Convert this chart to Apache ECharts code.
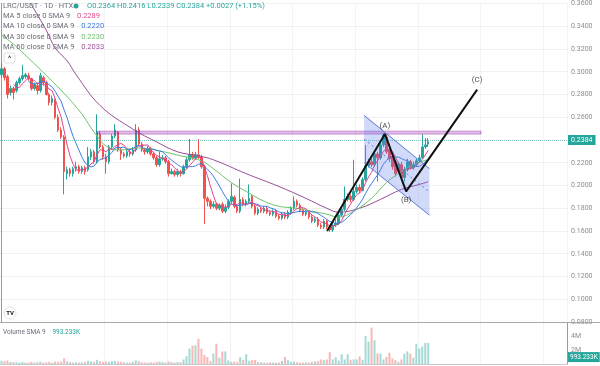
<!DOCTYPE html>
<html><head><meta charset="utf-8">
<script src="https://cdn.jsdelivr.net/npm/echarts@6/dist/echarts.min.js"></script>
<style>html,body{margin:0;padding:0;background:#fff}#c{width:600px;height:366px}</style>
</head><body><div id="c"></div>
<script>
// ---- data ----
const opens = [
.2974,.3026,.2957,.2817,.2852,.2835,.2904,.2939,.2957,.2965,
.2939,.2852,.2878,.2835,.2948,.2904,.2800,.2730,.2757,.2600,
.2487,.2426,.2104,.2139,.2104,.2148,.2165,.2122,.2157,.2139,
.2252,.2296,.2209,.2452,.2339,.2252,.2209,.2339,.2435,.2470,
.2313,.2278,.2261,.2296,.2278,.2313,.2487,.2365,.2313,.2296,
.2322,.2278,.2243,.2183,.2235,.2243,.2209,.2104,.2122,.2096,
.2122,.2104,.2165,.2226,.2270,.2243,.2270,.2252,.2165,.1887,
.1861,.1817,.1835,.1800,.1835,.1774,.1809,.1861,.1896,.1817,
.1774,.1878,.1835,.1861,.1904,.1817,.1757,.1791,.1774,.1800,
.1765,.1748,.1774,.1730,.1713,.1748,.1722,.1765,.1800,.1861,
.1826,.1783,.1748,.1765,.1722,.1687,.1704,.1652,.1635,.1687,
.1635,.1609,.1652,.1670,.1739,.1791,.1878,.1904,.1878,.1948,
.1983,.1957,.2052,.2174,.2209,.2183,.2278,.2243,.2357,.2426,
.2313,.2252,.2209,.2122,.2183,.2070,.2139,.2209,.2157,.2183,
.2217,.2243,.2339,.2364];
const closes = [
.3026,.2948,.2800,.2852,.2817,.2904,.2939,.2965,.2974,.2939,
.2852,.2887,.2835,.2965,.2904,.2800,.2730,.2765,.2600,.2487,
.2426,.2122,.2139,.2104,.2148,.2165,.2122,.2157,.2122,.2252,
.2296,.2209,.2470,.2339,.2252,.2209,.2339,.2435,.2487,.2313,
.2278,.2261,.2296,.2278,.2313,.2487,.2365,.2313,.2296,.2322,
.2278,.2243,.2183,.2235,.2243,.2209,.2104,.2122,.2096,.2122,
.2104,.2165,.2226,.2270,.2243,.2270,.2252,.2165,.1887,.1861,
.1817,.1835,.1800,.1826,.1774,.1809,.1861,.1904,.1817,.1774,
.1878,.1835,.1861,.1887,.1817,.1757,.1791,.1774,.1800,.1765,
.1748,.1774,.1730,.1713,.1748,.1722,.1765,.1800,.1861,.1826,
.1783,.1748,.1765,.1722,.1687,.1704,.1652,.1635,.1687,.1635,
.1609,.1652,.1670,.1739,.1791,.1878,.1904,.1878,.1948,.1983,
.1957,.2052,.2174,.2209,.2183,.2278,.2243,.2357,.2443,.2296,
.2235,.2165,.2104,.2191,.2070,.2139,.2209,.2157,.2183,.2217,
.2243,.2339,.2357,.2384];
const highs = [
.3078,.3043,.2974,.2878,.2870,.2922,.2957,.3061,.2991,.2991,
.2948,.2904,.2904,.2991,.2965,.2922,.2817,.2791,.2765,.2626,
.2513,.2443,.2165,.2157,.2165,.2209,.2183,.2174,.2174,.2339,
.2322,.2313,.2626,.2478,.2357,.2278,.2357,.2452,.2539,.2478,
.2330,.2296,.2313,.2322,.2339,.2539,.2513,.2383,.2330,.2348,
.2339,.2296,.2261,.2296,.2270,.2261,.2226,.2148,.2139,.2148,
.2139,.2183,.2252,.2409,.2296,.2296,.2409,.2270,.2183,.1904,
.1878,.1861,.1852,.1843,.1852,.1835,.1878,.2017,.1913,.1835,
.2061,.1896,.1878,.2009,.1922,.1835,.1809,.1809,.1817,.1817,
.1783,.1791,.1791,.1748,.1765,.1765,.1783,.1817,.1904,.1878,
.1843,.1800,.1783,.1783,.1739,.1722,.1722,.1670,.1704,.1704,
.1652,.1670,.1704,.1757,.1817,.1991,.1930,.1922,.2226,.2009,
.2009,.2070,.2357,.2235,.2235,.2304,.2296,.2383,.2461,.2443,
.2339,.2278,.2226,.2209,.2209,.2165,.2235,.2226,.2209,.2235,
.2270,.2452,.2417,.2416];
const lows = [
.2948,.2922,.2765,.2791,.2757,.2817,.2887,.2922,.2939,.2922,
.2835,.2835,.2800,.2817,.2878,.2791,.2704,.2704,.2583,.2470,
.2409,.1922,.2052,.2078,.2078,.2122,.2104,.2104,.2096,.2122,
.2226,.2191,.2191,.2322,.2226,.2104,.2191,.2322,.2417,.2296,
.2226,.2243,.2243,.2252,.2261,.2296,.2348,.2296,.2270,.2278,
.2261,.2226,.2165,.2165,.2217,.2191,.2078,.2096,.2078,.2078,
.2078,.2096,.2148,.2209,.2226,.2226,.2235,.2148,.1661,.1817,
.1791,.1800,.1783,.1783,.1757,.1757,.1791,.1843,.1800,.1757,
.1757,.1817,.1817,.1843,.1800,.1739,.1739,.1757,.1757,.1748,
.1730,.1730,.1713,.1696,.1696,.1704,.1704,.1748,.1783,.1809,
.1765,.1730,.1730,.1704,.1670,.1670,.1635,.1617,.1617,.1617,
.1591,.1591,.1635,.1652,.1722,.1774,.1861,.1852,.1861,.1930,
.1930,.1948,.2035,.2157,.2165,.2165,.2035,.2226,.2339,.2278,
.2209,.2139,.2078,.2104,.2052,.2035,.2122,.2139,.2139,.2165,
.2209,.2235,.2322,.2339];
// volume in millions
const volumes = [
0.45,0.40,0.50,0.30,0.25,0.25,0.20,0.30,0.20,0.20,
0.30,0.20,0.25,0.35,0.20,0.25,0.30,0.20,0.35,0.30,
0.35,0.80,0.40,0.25,0.20,0.25,0.20,0.20,0.25,0.45,
0.35,0.30,0.60,0.40,0.30,0.35,0.30,0.40,0.45,0.35,
0.30,0.25,0.20,0.20,0.30,0.50,0.40,0.25,0.20,0.20,
0.25,0.20,0.30,0.35,0.25,0.20,0.35,0.25,0.20,0.30,
0.25,0.65,1.10,2.20,2.60,2.70,3.60,2.20,1.30,1.00,
0.40,1.50,2.90,0.90,1.80,1.80,0.50,0.30,0.35,0.25,
1.00,0.60,1.40,0.45,0.55,0.60,0.30,0.25,0.20,0.20,
0.25,0.20,0.20,0.20,0.45,1.00,0.55,0.30,0.35,0.25,
0.20,0.20,0.25,0.20,0.30,0.35,0.40,0.65,0.55,0.65,
1.70,0.65,0.95,0.50,1.40,0.65,1.40,0.60,0.65,0.65,
1.10,0.60,4.00,3.20,5.20,3.40,1.50,1.50,0.65,1.00,
1.60,0.80,0.55,0.30,0.65,1.50,1.80,1.50,0.90,2.90,
2.20,2.50,3.00,3.00];
// MA 30 / MA 60: [candle index, value]
const ma30Pts = [[0,.3322],[4,.3243],[11,.3070],[21,.2809],[27,.2626],[31,.2470],[36,.2330],[40,.2313],[46,.2330],[53,.2304],[60,.2261],[67,.2217],[71,.2148],[77,.2026],[82,.1948],[88,.1861],[93,.1817],[99,.1800],[104,.1774],[109,.1748],[113,.1722],[118,.1774],[124,.1887],[129,.2026],[134,.2122],[138,.2183],[143,.2230]];
const ma60Pts = [[9,.3635],[15,.3365],[18,.3209],[22,.3096],[25,.2974],[33,.2704],[44,.2496],[52,.2383],[59,.2296],[66,.2261],[71,.2226],[82,.2104],[93,.1991],[102,.1887],[109,.1800],[113,.1765],[120,.1800],[127,.1878],[134,.1965],[140,.2009],[143,.2033]];
// drawings
const bandX = [32, 160.7];
const bandY = [0.2452, 0.2478];
const chanTop = [[121.5,0.2617],[143.4,0.2148]];
const chanBot = [[121.5,0.2200],[143.4,0.1739]];
const chanMid = [[121.5,0.2409],[143.4,0.1943]];
const wave = [[109.1,0.1600],[128.5,0.2452],[135.6,0.1948],[159.4,0.2843]];
const waveLabels = ['(A)','(B)','(C)'];
const waveLabelPos = [[128.5,0.2522],[135.6,0.1870],[159.4,0.2930]];
const lastPrice = 0.2384;
const volSma = 0.993233;
const legendVals = {ma5:'0.2289', ma10:'0.2220', ma30:'0.2230', ma60:'0.2033'};
const ohlcText = 'O0.2364 H0.2416 L0.2339 C0.2384 +0.0027 (+1.15%)';

// ---- build ----
const M = 190;
const cats = Array.from({length: M}, (_, i) => i);
const candle = closes.map((c, i) => [opens[i], c, lows[i], highs[i]]);
function sma(n) {
  const out = [];
  for (let i = n - 1; i < closes.length; i++) {
    let s = 0; for (let k = i - n + 1; k <= i; k++) s += closes[k];
    out.push([i, +(s / n).toFixed(4)]);
  }
  return out;
}
const UP = '#26a69a', DN = '#ef5350';
const C5 = '#e0468e', C10 = '#3f7be3', C30 = '#6cc46c', C60 = '#9a4e97';
const volData = volumes.map((v, i) => ({value: v, itemStyle: {color: closes[i] >= opens[i] ? 'rgba(38,166,154,0.42)' : 'rgba(239,83,80,0.42)'}}));
const vgrid = [35,56,77,98,119,140,161,182];
const FONT = 'Roboto, sans-serif';

const chart = echarts.init(document.getElementById('c'), null, {renderer: 'canvas'});
chart.setOption({
  animation: false,
  backgroundColor: '#fff',
  grid: [
    {left: 0, right: 33, top: 0, height: 322},
    {left: 0, right: 33, top: 323, height: 41}
  ],
  xAxis: [
    {type: 'category', gridIndex: 0, data: cats, boundaryGap: true, axisLabel: {show: false}, axisTick: {show: false}, axisLine: {show: false},
     splitLine: {show: true, interval: (i) => vgrid.includes(i), lineStyle: {color: '#f2f3f6'}}},
    {type: 'category', gridIndex: 1, data: cats, boundaryGap: true, axisLabel: {show: false}, axisTick: {show: false}, axisLine: {show: true, lineStyle: {color: '#c8c8c8'}},
     splitLine: {show: true, interval: (i) => vgrid.includes(i), lineStyle: {color: '#f2f3f6'}}},
    {type: 'value', gridIndex: 0, min: -0.5, max: M - 0.5, show: false}
  ],
  yAxis: [
    {type: 'value', gridIndex: 0, position: 'right', min: 0.08, max: 0.36, interval: 0.02,
     axisLine: {show: true, lineStyle: {color: '#9a9a9a'}}, axisTick: {show: false},
     axisLabel: {color: '#8a8d96', fontSize: 7, fontFamily: FONT, margin: 4, formatter: v => Math.abs(v - 0.24) < 1e-6 ? '' : v.toFixed(4)},
     splitLine: {show: true, lineStyle: {color: '#f0f1f4'}}},
    {type: 'value', gridIndex: 1, position: 'right', min: 0, max: 5.857, interval: 2,
     axisLine: {show: true, lineStyle: {color: '#9a9a9a'}}, axisTick: {show: false},
     axisLabel: {color: '#8a8d96', fontSize: 7, fontFamily: FONT, margin: 4, showMaxLabel: false, formatter: v => v === 0 ? '' : v + 'M'},
     splitLine: {show: false}}
  ],
  series: [
    {type: 'candlestick', xAxisIndex: 0, yAxisIndex: 0, data: candle, barWidth: 2,
     itemStyle: {color: UP, color0: DN, borderColor: UP, borderColor0: DN, borderWidth: 1},
     markLine: {symbol: ['none', 'none'], silent: true, animation: false,
       data: [{yAxis: lastPrice}],
       lineStyle: {color: '#26a69a', type: 'dotted', width: 1, opacity: 0.55},
       label: {show: true, position: 'end', formatter: lastPrice.toFixed(4), backgroundColor: UP, color: '#ffffff', opacity: 1, fontSize: 7, fontFamily: FONT, padding: [2, 3, 1, 3], distance: 1}}},
    {type: 'line', xAxisIndex: 2, yAxisIndex: 0, data: ma60Pts, smooth: 0.4, symbol: 'none', lineStyle: {color: C60, width: 1}, z: 3},
    {type: 'line', xAxisIndex: 2, yAxisIndex: 0, data: ma30Pts, smooth: 0.4, symbol: 'none', lineStyle: {color: C30, width: 1}, z: 3},
    {type: 'line', xAxisIndex: 2, yAxisIndex: 0, data: sma(10), symbol: 'none', lineStyle: {color: C10, width: 1}, z: 3},
    {type: 'line', xAxisIndex: 2, yAxisIndex: 0, data: sma(5), symbol: 'none', lineStyle: {color: C5, width: 1}, z: 3},
    {type: 'custom', xAxisIndex: 2, yAxisIndex: 0, data: [[0, 0]], silent: true, z: 4,
     renderItem: (params, api) => {
       const a = api.coord([bandX[0], bandY[1]]), b = api.coord([bandX[1], bandY[0]]);
       return {type: 'rect', shape: {x: a[0], y: a[1], width: b[0] - a[0], height: b[1] - a[1]},
               style: {fill: 'rgba(156,39,176,0.30)', stroke: 'rgba(156,39,176,0.45)', lineWidth: 1}};
     }},
    {type: 'custom', xAxisIndex: 2, yAxisIndex: 0, data: [[0, 0]], silent: true, z: 5,
     renderItem: (params, api) => {
       const P = q => api.coord(q);
       return {type: 'group', children: [
         {type: 'polygon', shape: {points: [P(chanTop[0]), P(chanTop[1]), P(chanBot[1]), P(chanBot[0])]}, style: {fill: 'rgba(90,118,232,0.27)'}},
         {type: 'polyline', shape: {points: [P(chanTop[0]), P(chanTop[1])]}, style: {stroke: '#5b7ad9', lineWidth: 1, fill: null}},
         {type: 'polyline', shape: {points: [P(chanBot[0]), P(chanBot[1])]}, style: {stroke: '#5b7ad9', lineWidth: 1, fill: null}},
         {type: 'polyline', shape: {points: [P(chanMid[0]), P(chanMid[1])]}, style: {stroke: '#5b7ad9', lineWidth: 1, lineDash: [2, 3], fill: null}}
       ]};
     }},
    {type: 'line', xAxisIndex: 2, yAxisIndex: 0, data: wave, symbol: 'none', lineStyle: {color: '#111', width: 2}, z: 6},
    {type: 'scatter', xAxisIndex: 2, yAxisIndex: 0, symbolSize: 0, z: 7, silent: true,
     data: waveLabelPos.map((p, i) => ({value: p, name: waveLabels[i]})),
     label: {show: true, position: 'inside', formatter: p => p.name, color: '#222', fontSize: 8, fontFamily: FONT}},
    {type: 'bar', xAxisIndex: 1, yAxisIndex: 1, data: volData, barWidth: 2,
     markLine: {symbol: ['none', 'none'], silent: true, data: [{yAxis: volSma}], lineStyle: {color: 'rgba(0,0,0,0)', width: 0},
       label: {show: true, position: 'end', formatter: '993.233K', backgroundColor: UP, color: '#ffffff', fontSize: 6.5, fontFamily: FONT, padding: [2, 2, 1, 2], distance: 1}}}
  ],
  graphic: [
    {type: 'line', shape: {x1: 0, y1: 322.5, x2: 600, y2: 322.5}, style: {stroke: '#a8a8a8', lineWidth: 1}, z: 10},
    {type: 'text', x: 3, y: 6, style: {text: '{g|LRC/USDT · 1D · HTX}', rich: {g: {fill: '#6a6d78', font: '7.5px ' + FONT}}, verticalAlign: 'middle'}, z: 10},
    {type: 'circle', shape: {cx: 76, cy: 6, r: 2.5}, style: {fill: UP}, z: 10},
    {type: 'text', x: 87, y: 6, style: {text: ohlcText, fill: UP, font: '7.5px ' + FONT, verticalAlign: 'middle'}, z: 10},
    {type: 'text', x: 3, y: 16, style: {text: '{g|MA 5 close 0 SMA 9}  {v|' + legendVals.ma5 + '}', rich: {g: {fill: '#6a6d78', font: '7.5px ' + FONT}, v: {fill: C5, font: '7.5px ' + FONT}}, verticalAlign: 'middle'}, z: 10},
    {type: 'text', x: 3, y: 26, style: {text: '{g|MA 10 close 0 SMA 9}  {v|' + legendVals.ma10 + '}', rich: {g: {fill: '#6a6d78', font: '7.5px ' + FONT}, v: {fill: C10, font: '7.5px ' + FONT}}, verticalAlign: 'middle'}, z: 10},
    {type: 'text', x: 3, y: 37, style: {text: '{g|MA 30 close 0 SMA 9}  {v|' + legendVals.ma30 + '}', rich: {g: {fill: '#6a6d78', font: '7.5px ' + FONT}, v: {fill: C30, font: '7.5px ' + FONT}}, verticalAlign: 'middle'}, z: 10},
    {type: 'text', x: 3, y: 47, style: {text: '{g|MA 60 close 0 SMA 9}  {v|' + legendVals.ma60 + '}', rich: {g: {fill: '#6a6d78', font: '7.5px ' + FONT}, v: {fill: C60, font: '7.5px ' + FONT}}, verticalAlign: 'middle'}, z: 10},
    {type: 'rect', shape: {x: 4, y: 53, width: 11, height: 10, r: 2}, style: {fill: '#fff', stroke: '#e0e0e0', lineWidth: 1}, z: 10},
    {type: 'text', x: 9.5, y: 59, style: {text: '^', fill: '#333', font: 'bold 7px ' + FONT, align: 'center', verticalAlign: 'middle'}, z: 11},
    {type: 'circle', shape: {cx: 10, cy: 313, r: 6}, style: {fill: '#fff', stroke: '#e4e4e4', lineWidth: 1}, z: 10},
    {type: 'text', x: 10, y: 313, style: {text: 'TV', fill: '#131722', font: 'bold 6px ' + FONT, align: 'center', verticalAlign: 'middle'}, z: 11},
    {type: 'text', x: 3, y: 332, style: {text: '{g|Volume SMA 9}  {v|993.233K}', rich: {g: {fill: '#6a6d78', font: '6.5px ' + FONT}, v: {fill: UP, font: '6.5px ' + FONT}}, verticalAlign: 'middle'}, z: 10}
  ]
});
</script></body></html>
